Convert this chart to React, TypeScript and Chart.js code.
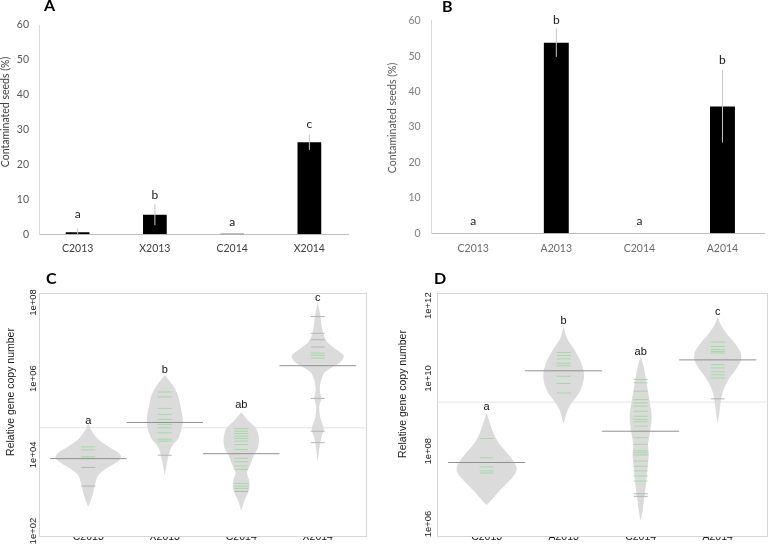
import React, { useEffect, useRef } from 'react';
import { Chart, registerables } from 'chart.js';

Chart.register(...registerables);

const XL_FONT = 'Lato, "Open Sans", sans-serif';
const R_FONT = '"Liberation Sans", Arial, sans-serif';

// ---------------- Panel A (bars, % contaminated seeds) ----------------
const catsA = ['C2013', 'X2013', 'C2014', 'X2014'];
const valuesA = [0.6, 5.6, 0.15, 26.4];
const errorsA = [1.1, 3.0, 0.2, 2.2];
const lettersA = ['a', 'b', 'a', 'c'];
const letterPosA = [5.7, 11.3, 3.6, 31.6];

// ---------------- Panel B ----------------
const catsB = ['C2013', 'A2013', 'C2014', 'A2014'];
const valuesB = [0, 53.8, 0, 35.8];
const errorsB = [0, 4.0, 0, 10.2];
const lettersB = ['a', 'b', 'a', 'b'];
const letterPosB = [3.3, 60.2, 3.3, 48.9];

// ---------------- Panel C (beanplot, log10 copy number) ----------------
// outline: [log10 value, bean half-width in category units]
const catsC = ['C2013', 'X2013', 'C2014', 'X2014'];
const beanC1 = [[4.82, 0], [4.61, 0.05], [4.41, 0.13], [4.22, 0.26], [4.09, 0.37], [3.96, 0.43], [3.83, 0.39], [3.67, 0.26], [3.49, 0.14], [3.23, 0.09], [2.97, 0.06], [2.78, 0.03], [2.63, 0]];
const beanC2 = [[6.09, 0], [5.84, 0.1], [5.58, 0.17], [5.24, 0.21], [4.93, 0.235], [4.67, 0.22], [4.41, 0.17], [4.25, 0.1], [4.09, 0.065], [3.83, 0.033], [3.46, 0]];
const beanC3 = [[5.12, 0], [4.88, 0.1], [4.71, 0.19], [4.45, 0.23], [4.19, 0.22], [4.01, 0.17], [3.75, 0.12], [3.53, 0.075], [3.36, 0.1], [3.18, 0.11], [3.01, 0.09], [2.79, 0.04], [2.53, 0]];
const beanC4 = [[8.02, 0], [7.67, 0.033], [7.23, 0.065], [6.97, 0.12], [6.78, 0.235], [6.6, 0.34], [6.44, 0.3], [6.31, 0.2], [6.16, 0.09], [5.97, 0.046], [5.71, 0.026], [5.48, 0.046], [5.27, 0.02], [4.98, 0.033], [4.67, 0.08], [4.48, 0.05], [4.22, 0.026], [3.83, 0]];
const meansC = [3.9, 4.85, 4.03, 6.34];
const overallC = 4.71;
const greenC = [
  [4.21, 4.13, 3.95, 3.91],
  [5.65, 5.52, 5.22, 5.06, 4.93, 4.8, 4.71, 4.58, 4.41, 4.36],
  [4.69, 4.62, 4.56, 4.49, 4.43, 4.36, 4.27, 4.14, 3.91, 3.82, 3.71, 3.62, 3.25, 3.18, 3.12],
  [6.67, 6.61, 6.54],
];
const grayC = [[3.67, 3.18], [3.99], [3.04], [7.63, 7.19, 7.02, 6.83, 5.48, 4.62, 4.32]];
const lettersC = ['a', 'b', 'ab', 'c'];
const letterPosC = [4.88, 6.24, 5.3, 8.11];
const yTicksC = [1e2, 1e4, 1e6, 1e8];

// ---------------- Panel D ----------------
const catsD = ['C2013', 'A2013', 'C2014', 'A2014'];
const beanD1 = [[9.06, 0], [8.74, 0.048], [8.46, 0.096], [8.19, 0.17], [7.92, 0.28], [7.69, 0.36], [7.5, 0.39], [7.32, 0.35], [7.09, 0.25], [6.87, 0.15], [6.64, 0.055], [6.52, 0]];
const beanD2 = [[11.43, 0], [11.11, 0.042], [10.83, 0.127], [10.56, 0.2], [10.29, 0.25], [10.06, 0.265], [9.83, 0.246], [9.6, 0.2], [9.37, 0.12], [9.1, 0.047], [8.75, 0]];
const beanD3 = [[10.6, 0], [10.29, 0.042], [9.83, 0.08], [9.37, 0.117], [8.92, 0.143], [8.46, 0.117], [8.19, 0.096], [7.92, 0.106], [7.55, 0.09], [7.09, 0.07], [6.73, 0.047], [6.36, 0.025], [6.09, 0]];
const beanD4 = [[11.7, 0], [11.47, 0.042], [11.2, 0.127], [10.97, 0.223], [10.7, 0.3], [10.47, 0.297], [10.24, 0.233], [10.01, 0.153], [9.74, 0.085], [9.47, 0.047], [9.1, 0.025], [8.74, 0]];
const meansD = [7.69, 10.21, 8.55, 10.51];
const overallD = 9.35;
const greenD = [
  [8.35, 7.82, 7.57, 7.46, 7.4],
  [10.71, 10.63, 10.54, 10.42, 10.35, 10.06, 9.86, 9.6],
  [9.97, 9.88, 9.65, 9.42, 9.33, 9.24, 9.1, 8.96, 8.87, 8.81, 8.69, 8.37, 8.19, 8.01, 7.96, 7.9, 7.73, 7.59, 7.46, 7.32, 7.18],
  [11.0, 10.88, 10.79, 10.74, 10.7, 10.38, 10.29, 10.18, 10.1, 10.01],
];
const grayD = [[], [], [6.83, 6.76], [9.44]];
const lettersD = ['a', 'b', 'ab', 'c'];
const letterPosD = [9.21, 11.58, 10.74, 11.84];
const yTicksD = [1e6, 1e8, 1e10, 1e12];

type TextSpec = { text: string; x: number; y: number; font: string; color: string; rotate?: boolean; align?: CanvasTextAlign };
type LetterSpec = { labels: string[]; xs: number[]; ys: number[]; font: string; color: string };

function decor(texts: TextSpec[], letters: LetterSpec, box?: string) {
  return {
    id: 'decor',
    beforeDatasetsDraw(chart: any) {
      if (!box) return;
      const a = chart.chartArea;
      const ctx = chart.ctx;
      ctx.save();
      ctx.strokeStyle = box;
      ctx.lineWidth = 1;
      ctx.strokeRect(Math.round(a.left) + 0.5, Math.round(a.top) + 0.5, Math.round(a.right - a.left), Math.round(a.bottom - a.top));
      ctx.restore();
    },
    afterDraw(chart: any) {
      const ctx = chart.ctx;
      texts.forEach((t) => {
        ctx.save();
        ctx.font = t.font;
        ctx.fillStyle = t.color;
        ctx.textAlign = t.align || 'center';
        ctx.textBaseline = 'middle';
        ctx.translate(t.x, t.y);
        if (t.rotate) ctx.rotate(-Math.PI / 2);
        ctx.fillText(t.text, 0, 0);
        ctx.restore();
      });
      const xs = chart.scales.x;
      const ys = chart.scales.y;
      ctx.save();
      ctx.font = letters.font;
      ctx.fillStyle = letters.color;
      ctx.textAlign = 'center';
      ctx.textBaseline = 'middle';
      letters.labels.forEach((s, i) => {
        ctx.fillText(s, xs.getPixelForValue(letters.xs[i]), ys.getPixelForValue(letters.ys[i]));
      });
      ctx.restore();
    },
  };
}

type BarSpec = {
  cats: string[]; values: number[]; errors: number[]; letters: string[]; letterPos: number[];
  padTop: number; padRight: number; leftW: number; bottomH: number;
  tickColor: string; catColor: string; xPad: number; yPad: number; barPct: number; texts: TextSpec[];
};

function barConfig(s: BarSpec): any {
  const datasets: any[] = [
    { type: 'bar', data: s.values, backgroundColor: '#000000', borderWidth: 0, barPercentage: s.barPct, categoryPercentage: 1, order: 2 },
  ];
  s.cats.forEach((c, i) => {
    datasets.push({
      type: 'line',
      data: [{ x: c, y: Math.max(0, s.values[i] - s.errors[i]) }, { x: c, y: s.values[i] + s.errors[i] }],
      borderColor: '#c9c9c9', borderWidth: 1, pointRadius: 0, fill: false, order: 1,
    });
  });
  return {
    type: 'bar',
    data: { labels: s.cats, datasets },
    options: {
      responsive: false, animation: false,
      layout: { padding: { top: s.padTop, right: s.padRight, left: 0, bottom: 0 } },
      plugins: { legend: { display: false }, tooltip: { enabled: false } },
      scales: {
        x: {
          type: 'category', offset: true,
          grid: { display: false, drawTicks: false },
          border: { display: true, color: '#bfbfbf', width: 1 },
          ticks: { color: s.catColor, font: { family: XL_FONT, size: 10.5 }, padding: s.xPad, maxRotation: 0, autoSkip: false },
          afterFit: (sc: any) => { sc.height = s.bottomH; },
        },
        y: {
          min: 0, max: 60,
          grid: { display: false, drawTicks: false },
          border: { display: true, color: '#d9d9d9', width: 1 },
          ticks: { stepSize: 10, color: s.tickColor, font: { family: XL_FONT, size: 10.5 }, padding: s.yPad },
          afterFit: (sc: any) => { sc.width = s.leftW; },
        },
      },
    },
    plugins: [decor(s.texts, { labels: s.letters, xs: s.cats.map((_, i) => i), ys: s.letterPos, font: `12px ${XL_FONT}`, color: '#1a1a1a' })],
  };
}

type BeanSpec = {
  cats: string[]; beans: number[][][]; means: number[]; overall: number; green: number[][]; gray: number[][];
  letters: string[]; letterPos: number[]; yTicks: number[]; yMinExp: number; yMaxExp: number;
  padTop: number; padRight: number; leftW: number; bottomH: number; yTickPad: number; texts: TextSpec[];
};

const X_MIN = 0.36;
const X_MAX = 4.64;

function beanConfig(s: BeanSpec): any {
  const datasets: any[] = [];
  datasets.push({
    data: [{ x: X_MIN, y: 10 ** s.overall }, { x: X_MAX, y: 10 ** s.overall }],
    borderColor: '#e4e4e4', borderWidth: 1, pointRadius: 0, fill: false, order: 5,
  });
  s.beans.forEach((b, i) => {
    const c = i + 1;
    const right = b.map(([lg, w]) => ({ x: c + w, y: 10 ** lg }));
    const left = b.slice().reverse().map(([lg, w]) => ({ x: c - w, y: 10 ** lg }));
    datasets.push({
      data: [...right, ...left], showLine: true, fill: 'shape',
      backgroundColor: '#dbdbdb', borderColor: 'rgba(0,0,0,0)', borderWidth: 0,
      pointRadius: 0, tension: 0.3, order: 4,
    });
  });
  const greenPts: any[] = [];
  s.green.forEach((arr, i) => arr.forEach((v) => greenPts.push({ x: i + 1, y: 10 ** v })));
  const grayPts: any[] = [];
  s.gray.forEach((arr, i) => arr.forEach((v) => grayPts.push({ x: i + 1, y: 10 ** v })));
  datasets.push({
    data: greenPts, showLine: false, pointStyle: 'line', pointRadius: 7, pointHoverRadius: 7,
    borderColor: '#a6d8a6', pointBorderColor: '#a6d8a6', pointBorderWidth: 1, order: 3,
  });
  datasets.push({
    data: grayPts, showLine: false, pointStyle: 'line', pointRadius: 7, pointHoverRadius: 7,
    borderColor: '#b4b4b4', pointBorderColor: '#b4b4b4', pointBorderWidth: 1, order: 3,
  });
  s.means.forEach((m, i) => {
    datasets.push({
      data: [{ x: i + 0.5, y: 10 ** m }, { x: i + 1.5, y: 10 ** m }],
      borderColor: '#909090', borderWidth: 1, pointRadius: 0, fill: false, order: 2,
    });
  });
  return {
    type: 'line',
    data: { datasets },
    options: {
      responsive: false, animation: false,
      layout: { padding: { top: s.padTop, right: s.padRight, left: 0, bottom: 0 } },
      plugins: { legend: { display: false }, tooltip: { enabled: false } },
      scales: {
        x: {
          type: 'linear', min: X_MIN, max: X_MAX, bounds: 'data',
          grid: { display: false, drawTicks: false },
          border: { display: false },
          afterBuildTicks: (sc: any) => { sc.ticks = [1, 2, 3, 4].map((value) => ({ value })); },
          ticks: {
            color: '#1a1a1a', font: { family: R_FONT, size: 10.5 }, padding: -5, maxRotation: 0, autoSkip: false,
            callback: (v: any) => s.cats[Math.round(Number(v)) - 1] || '',
          },
          afterFit: (sc: any) => { sc.height = s.bottomH; },
        },
        y: {
          type: 'logarithmic', min: 10 ** s.yMinExp, max: 10 ** s.yMaxExp, bounds: 'data',
          grid: { display: false, drawTicks: false },
          border: { display: false },
          afterBuildTicks: (sc: any) => { sc.ticks = s.yTicks.map((value) => ({ value })); },
          ticks: {
            color: '#1a1a1a', font: { family: R_FONT, size: 9.5 }, padding: s.yTickPad,
            minRotation: 90, maxRotation: 90, crossAlign: 'center', autoSkip: false,
            callback: (v: any) => {
              const e = Math.round(Math.log10(Number(v)));
              return '1e+' + (e < 10 ? '0' + e : String(e));
            },
          },
          afterFit: (sc: any) => { sc.width = s.leftW; },
        },
      },
    },
    plugins: [decor(s.texts, { labels: s.letters, xs: [1, 2, 3, 4], ys: s.letterPos.map((v) => 10 ** v), font: `11px ${R_FONT}`, color: '#111111' }, '#d6d6d6')],
  };
}

export default function App() {
  const refA = useRef<HTMLCanvasElement>(null);
  const refB = useRef<HTMLCanvasElement>(null);
  const refC = useRef<HTMLCanvasElement>(null);
  const refD = useRef<HTMLCanvasElement>(null);

  useEffect(() => {
    const charts: Chart[] = [];
    charts.push(new Chart(refA.current as HTMLCanvasElement, barConfig({
      cats: catsA, values: valuesA, errors: errorsA, letters: lettersA, letterPos: letterPosA,
      padTop: 25, padRight: 37, leftW: 39, bottomH: 25.7, tickColor: '#595959', catColor: '#404040',
      xPad: 8.4, yPad: 10, barPct: 0.307,
      texts: [
        { text: 'A', x: 44, y: 6, font: `bold 16px ${XL_FONT}`, color: '#000', align: 'left' },
        { text: 'Contaminated seeds (%)', x: 5.5, y: 112, font: `10.5px ${XL_FONT}`, color: '#404040', rotate: true },
      ],
    })));
    charts.push(new Chart(refB.current as HTMLCanvasElement, barConfig({
      cats: catsB, values: valuesB, errors: errorsB, letters: lettersB, letterPos: letterPosB,
      padTop: 20.7, padRight: 11, leftW: 46.7, bottomH: 26.7, tickColor: '#7f7f7f', catColor: '#6b6b6b',
      xPad: 8.7, yPad: 11, barPct: 0.3,
      texts: [
        { text: 'B', x: 57, y: 7, font: `bold 16px ${XL_FONT}`, color: '#000', align: 'left' },
        { text: 'Contaminated seeds (%)', x: 7.5, y: 118, font: `10.5px ${XL_FONT}`, color: '#595959', rotate: true },
      ],
    })));
    charts.push(new Chart(refC.current as HTMLCanvasElement, beanConfig({
      cats: catsC, beans: [beanC1, beanC2, beanC3, beanC4], means: meansC, overall: overallC,
      green: greenC, gray: grayC, letters: lettersC, letterPos: letterPosC, yTicks: yTicksC,
      yMinExp: 1.87, yMaxExp: 8.24, padTop: 33.3, padRight: 18.3, leftW: 39.3, bottomH: 7, yTickPad: -7.5,
      texts: [
        { text: 'C', x: 46, y: 19, font: `bold 16px ${XL_FONT}`, color: '#000', align: 'left' },
        { text: 'Relative gene copy number', x: 11, y: 132, font: `10.5px ${R_FONT}`, color: '#1a1a1a', rotate: true },
      ],
    })));
    charts.push(new Chart(refD.current as HTMLCanvasElement, beanConfig({
      cats: catsD, beans: [beanD1, beanD2, beanD3, beanD4], means: meansD, overall: overallD,
      green: greenD, gray: grayD, letters: lettersD, letterPos: letterPosD, yTicks: yTicksD,
      yMinExp: 5.67, yMaxExp: 12.34, padTop: 33.3, padRight: 3, leftW: 52.3, bottomH: 7, yTickPad: -4.3,
      texts: [
        { text: 'D', x: 49, y: 19, font: `bold 16px ${XL_FONT}`, color: '#000', align: 'left' },
        { text: 'Relative gene copy number', x: 18, y: 134, font: `10.5px ${R_FONT}`, color: '#1a1a1a', rotate: true },
      ],
    })));
    return () => charts.forEach((c) => c.destroy());
  }, []);

  const abs = (left: number, top: number): React.CSSProperties => ({ position: 'absolute', left, top });
  return (
    <div style={{ position: 'absolute', left: 0, top: 0, width: 775, height: 544, background: '#ffffff', overflow: 'hidden' }}>
      <canvas ref={refA} width={385} height={260} style={abs(0, 0)} />
      <canvas ref={refB} width={390} height={260} style={abs(385, 0)} />
      <canvas ref={refC} width={385} height={284} style={abs(0, 260)} />
      <canvas ref={refD} width={390} height={284} style={abs(385, 260)} />
    </div>
  );
}
